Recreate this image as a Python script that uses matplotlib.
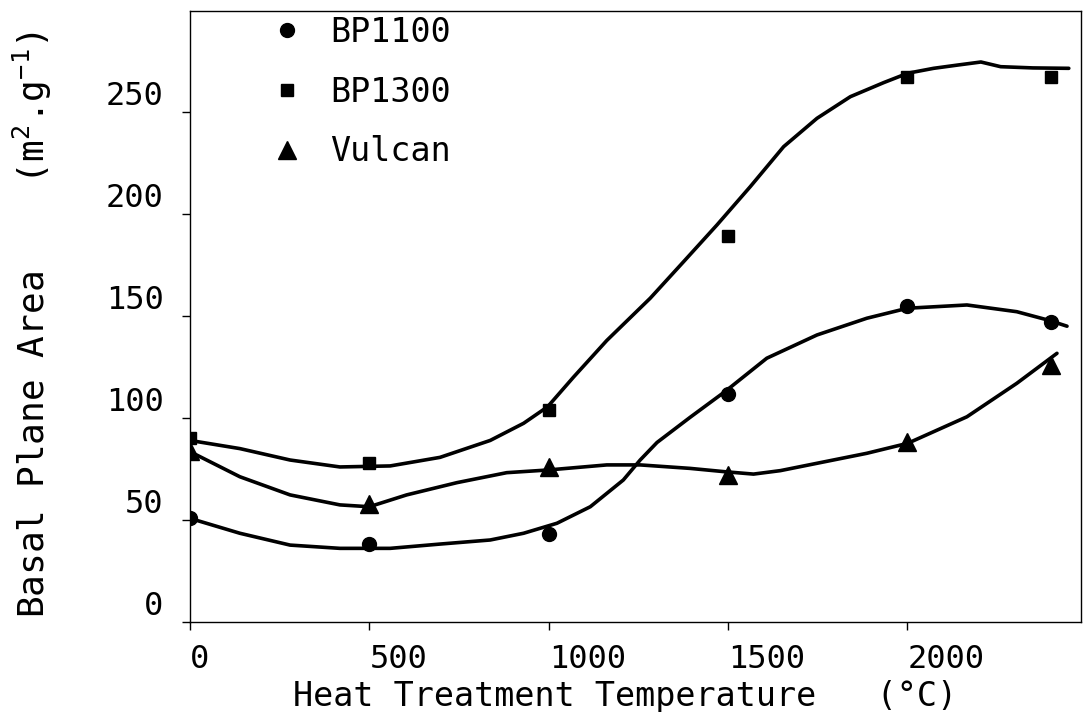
import matplotlib
matplotlib.use('Agg')
from matplotlib import pyplot as plt
from matplotlib.lines import Line2D

plt.rcParams['font.family'] = ['DejaVu Sans Mono']
plt.rcParams['mathtext.fontset'] = 'custom'
plt.rcParams['mathtext.rm'] = 'DejaVu Sans Mono'
plt.rcParams['mathtext.it'] = 'DejaVu Sans Mono'

# measured points
temps = [0, 500, 1000, 1500, 2000, 2400]
bp1100 = [51, 38, 43, 112, 155, 147]
bp1300 = [90, 78, 104, 189, 267, 267]
vulcan = [84, 58, 76, 72, 88, 126]

# hand drawn curves
bp1300_cx = [0, 139, 279, 418, 558, 697, 837, 930, 997, 1069, 1162, 1283, 1376,
             1469, 1562, 1655, 1748, 1841, 1934, 2001, 2073, 2140, 2205, 2260, 2350, 2450]
bp1300_cy = [89, 85, 79.4, 76, 76.5, 80.7, 89, 97.4, 105.5, 120, 138, 158.7, 176.6,
             194.6, 213.4, 233, 246.9, 257.5, 264.4, 269, 271.4, 273, 274.5, 272.2, 271.6, 271.4]

bp1100_cx = [0, 139, 279, 418, 558, 697, 837, 930, 1023, 1116, 1208, 1255, 1302,
             1394, 1492, 1608, 1748, 1887, 2000, 2166, 2305, 2392, 2445]
bp1100_cy = [50.8, 43.5, 37.7, 36.1, 36.1, 38.2, 40.2, 43.5, 48.4, 56.5, 69.6, 79.4, 88,
             100.3, 113, 129.3, 140.7, 148.9, 153.8, 155.4, 152.1, 148, 145]

vulcan_cx = [0, 139, 279, 418, 500, 604, 744, 883, 997, 1162, 1255, 1394, 1489,
             1571, 1646, 1748, 1887, 2001, 2166, 2305, 2417]
vulcan_cy = [83.5, 71.2, 62.3, 57.4, 56.5, 62.3, 68.3, 73.2, 74.5, 77, 77, 75.3, 73.7,
             72.5, 74.2, 77.8, 82.7, 87.6, 100.6, 117, 131.7]

labels = ['BP1100', 'BP1300', 'Vulcan']

fig = plt.figure(figsize=(10.83, 7.12), dpi=100)
ax = fig.add_axes([190/1083, 90/712, 891/1083, 611/712])

lw = 2.6
for cx, cy in [(bp1300_cx, bp1300_cy), (bp1100_cx, bp1100_cy), (vulcan_cx, vulcan_cy)]:
    ax.plot(cx, cy, color='k', lw=lw, solid_capstyle='round', solid_joinstyle='round')

ax.plot(temps, bp1100, 'o', color='k', ms=10, ls='none')
ax.plot(temps, bp1300, 's', color='k', ms=9, ls='none')
ax.plot(temps, vulcan, '^', color='k', ms=13, ls='none')

ax.set_xlim(0, 2484)
ax.set_ylim(0, 299.5)
ax.set_xticks([0, 500, 1000, 1500, 2000])
ax.set_yticks([0, 50, 100, 150, 200, 250])

fs = 23
ax.tick_params(direction='out', length=6, width=1, labelsize=fs)
ax.tick_params(axis='x', pad=10)
ax.tick_params(axis='y', pad=13)
for t in ax.get_xticklabels():
    t.set_ha('left')
for t in ax.get_yticklabels():
    t.set_va('bottom')
for s in ax.spines.values():
    s.set_linewidth(1.0)

ax.set_xlabel('Heat Treatment Temperature   (°C)', fontsize=24)
ax.xaxis.label.set_va('baseline')
ax.xaxis.set_label_coords(0.488, -0.1375)
ax.set_ylabel(r'Basal Plane Area    (m$^{2}$.g$^{-1}$)', fontsize=26)
ax.yaxis.label.set_va('center')
ax.yaxis.set_label_coords(-0.177, 0.486)

handles = [Line2D([], [], marker='o', color='k', ls='none', ms=10),
           Line2D([], [], marker='s', color='k', ls='none', ms=9),
           Line2D([], [], marker='^', color='k', ls='none', ms=13)]
ax.legend(handles, labels, loc='upper left', bbox_to_anchor=(0.09, 0.992),
          frameon=False, fontsize=24, handlelength=1.0, handletextpad=0.8,
          labelspacing=0.8, borderaxespad=0, borderpad=0)

fig.savefig('out.png', dpi=100)
